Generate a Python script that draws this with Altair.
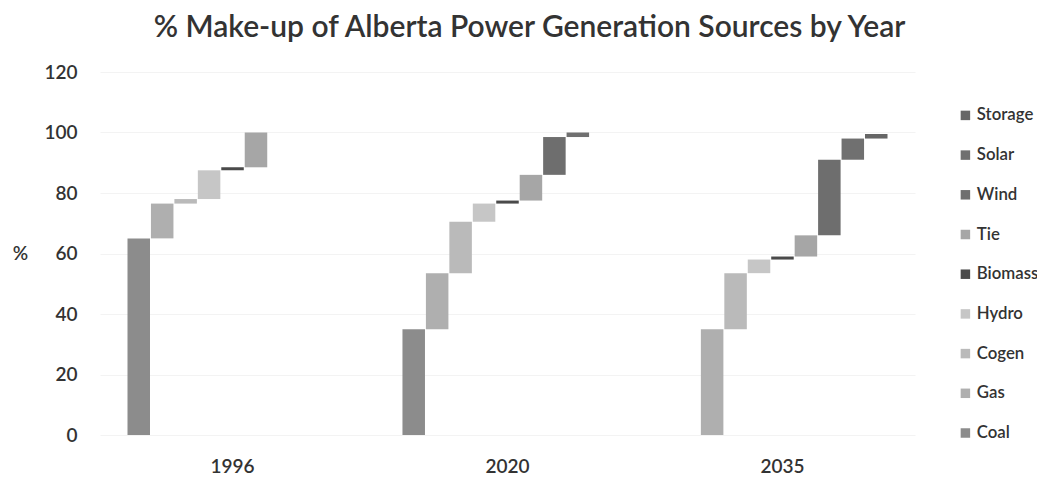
import altair as alt
import pandas as pd

years = ["1996", "2020", "2035"]
sources = ["Coal", "Gas", "Cogen", "Hydro", "Biomass", "Tie", "Wind", "Solar", "Storage"]
share_1996 = [65, 11.5, 1.5, 9.5, 1, 11.5, 0, 0, 0]
share_2020 = [35, 18.5, 17, 6, 1, 8.5, 12.5, 1.5, 0]
share_2035 = [0, 35, 18.5, 4.5, 1, 7, 25, 7, 1.5]
colors = ["#8c8c8c", "#afafaf", "#bababa", "#c6c6c6", "#4a4a4a", "#a6a6a6", "#6e6e6e", "#707070", "#666666"]

rows = []
for yr, vals in zip(years, [share_1996, share_2020, share_2035]):
    cum = 0.0
    for s, v in zip(sources, vals):
        rows.append({"year": yr, "source": s, "start": cum, "end": cum + v})
        cum += v
df = pd.DataFrame(rows)

FONT = "Lato"

chart = alt.Chart(df).mark_bar().encode(
    x=alt.X("year:N", sort=years,
            scale=alt.Scale(paddingInner=0.236, paddingOuter=0.1),
            axis=alt.Axis(title=None, labelAngle=0, labelFontSize=19, labelPadding=22,
                          ticks=False, domain=False, labelColor="#333333",
                          labelFont=FONT, labelFontWeight=600)),
    xOffset=alt.XOffset("source:N", sort=sources,
                        scale=alt.Scale(domain=sources, paddingInner=0.04, paddingOuter=0)),
    y=alt.Y("start:Q",
            scale=alt.Scale(domain=[0, 120]),
            axis=alt.Axis(values=[0, 20, 40, 60, 80, 100, 120], title="%", titleAngle=0,
                          titleX=-80, titleY=181.5, titleAlign="center", titleBaseline="middle",
                          titleFontSize=19, titleFont=FONT, titleFontWeight=600, titleColor="#333333",
                          labelFontSize=19, labelFont=FONT, labelFontWeight=600, labelColor="#333333",
                          labelPadding=23, ticks=False, domain=False,
                          grid=True, gridColor="#f3f3f3")),
    y2="end:Q",
    color=alt.Color("source:N",
                    scale=alt.Scale(domain=sources[::-1], range=colors[::-1]),
                    legend=alt.Legend(title=None, orient="none", legendX=857, legendY=35,
                                      symbolType="square", symbolSize=90, symbolStrokeWidth=0,
                                      labelFontSize=16.8, labelFont=FONT, labelFontWeight=600,
                                      labelColor="#333333", rowPadding=21.7, padding=0,
                                      labelOffset=3)),
).properties(
    width=815,
    height=363,
    padding={"left": 92, "top": 64, "right": 122, "bottom": 45},
    autosize=alt.AutoSizeParams(type="none"),
    title=alt.TitleParams("% Make-up of Alberta Power Generation Sources by Year",
                          fontSize=30, font=FONT, fontWeight=600, color="#333333",
                          anchor="middle", frame="group", baseline="alphabetic",
                          offset=0, dx=22, dy=4),
).configure_view(stroke=None)

chart.save("out.html", embed_options={"renderer": "svg", "actions": False})
